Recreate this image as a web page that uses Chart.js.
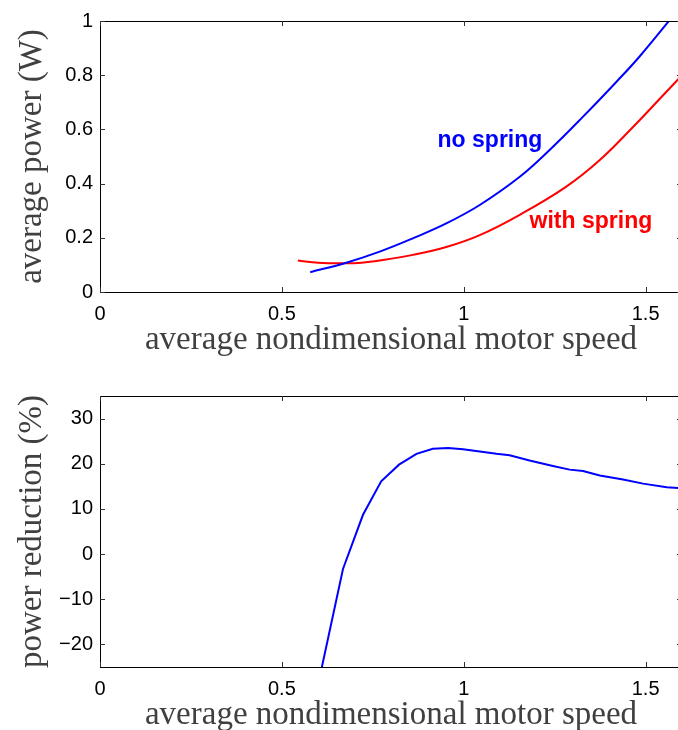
<!DOCTYPE html>
<html>
<head>
<meta charset="utf-8">
<script src="https://cdn.jsdelivr.net/npm/chart.js@4.4.1/dist/chart.umd.min.js"></script>
<style>
body { margin: 0; background: #fff; overflow: hidden; width: 678px; height: 730px; position: relative; }
.panel { position: absolute; left: 0; width: 690px; height: 365px; }
</style>
</head>
<body>
<div class="panel" style="top:0"><canvas id="powerChart" width="690" height="365"></canvas></div>
<div class="panel" style="top:375px"><canvas id="reductionChart" width="690" height="365"></canvas></div>
<script>
// top panel: average power vs speed
const speedNoSpring = [0.578, 0.677, 0.769, 0.860, 0.952, 1.044, 1.154, 1.236, 1.328, 1.42, 1.484, 1.575];
const powerNoSpring = [0.073, 0.108, 0.149, 0.198, 0.253, 0.321, 0.425, 0.524, 0.647, 0.776, 0.870, 1.018];
const speedWithSpring = [0.544, 0.60, 0.668, 0.72, 0.769, 0.860, 0.952, 1.044, 1.154, 1.282, 1.374, 1.466, 1.539, 1.60];
const powerWithSpring = [0.116, 0.108, 0.106, 0.108, 0.116, 0.137, 0.166, 0.210, 0.285, 0.389, 0.487, 0.610, 0.713, 0.800];

// bottom panel: power reduction (%)
const speedReduction = [0.58, 0.610, 0.668, 0.723, 0.773, 0.822, 0.870, 0.915, 0.957, 0.998, 1.044, 1.090, 1.126, 1.181, 1.245, 1.291, 1.328, 1.374, 1.438, 1.493, 1.558, 1.60];
const powerReduction = [-36, -25, -3.3, 8.7, 16.1, 19.8, 22.2, 23.3, 23.5, 23.2, 22.7, 22.2, 21.9, 20.7, 19.5, 18.7, 18.4, 17.4, 16.5, 15.6, 14.8, 14.6];

// tick labels
const speedTicks = [0, 0.5, 1, 1.5];
const powerTicks = [0, 0.2, 0.4, 0.6, 0.8, 1];
const reductionTicks = [-20, -10, 0, 10, 20, 30];

const tickFont = { family: 'Liberation Sans', size: 20 };
const titleFont = { family: 'Liberation Serif', size: 33 };
const titleColor = '#404040';

function pts(xs, ys) {
    return xs.map((x, i) => ({ x: x, y: ys[i] }));
}

function fmt(v) {
    return v < 0 ? '\u2212' + Math.abs(v) : String(v);
}

// matlab style box with inward ticks + text notes
const boxPlugin = {
    id: 'box',
    afterDatasetsDraw(chart, args, opts) {
        const ctx = chart.ctx;
        const a = chart.chartArea;
        const xs = chart.scales.x, ys = chart.scales.y;
        ctx.save();
        ctx.strokeStyle = '#000';
        ctx.lineWidth = 1;
        ctx.strokeRect(a.left + 0.5, a.top + 0.5, a.right - a.left, a.bottom - a.top);
        ctx.strokeStyle = '#333';
        ctx.beginPath();
        xs.ticks.forEach(t => {
            const px = Math.round(xs.getPixelForValue(t.value)) + 0.5;
            ctx.moveTo(px, a.bottom); ctx.lineTo(px, a.bottom - 5);
            ctx.moveTo(px, a.top); ctx.lineTo(px, a.top + 5);
        });
        ys.ticks.forEach(t => {
            const py = Math.round(ys.getPixelForValue(t.value)) + 0.5;
            ctx.moveTo(a.left, py); ctx.lineTo(a.left + 5, py);
            ctx.moveTo(a.right, py); ctx.lineTo(a.right - 5, py);
        });
        ctx.stroke();
        (opts.notes || []).forEach(n => {
            ctx.font = 'bold 23px "Liberation Sans"';
            ctx.fillStyle = n.color;
            ctx.textAlign = 'left';
            ctx.textBaseline = 'alphabetic';
            ctx.fillText(n.text, xs.getPixelForValue(n.x), ys.getPixelForValue(n.y));
        });
        ctx.restore();
    }
};

function makeChart(id, datasets, yMin, yMax, yTicks, yTitle, notes) {
    const ctx = document.getElementById(id).getContext('2d');
    return new Chart(ctx, {
        type: 'line',
        data: { datasets: datasets },
        plugins: [boxPlugin],
        options: {
            responsive: false,
            animation: false,
            layout: { padding: { top: 21, right: 8, bottom: 0, left: 0 } },
            plugins: {
                legend: { display: false },
                tooltip: { enabled: false },
                box: { notes: notes }
            },
            scales: {
                x: {
                    type: 'linear',
                    min: 0,
                    max: 1.6,
                    afterBuildTicks: s => { s.ticks = speedTicks.map(v => ({ value: v })); },
                    afterFit: s => { s.height = 73; },
                    grid: { display: false, drawTicks: false },
                    border: { display: false },
                    ticks: { font: tickFont, color: '#000', padding: 10, maxRotation: 0, callback: fmt },
                    title: {
                        display: true,
                        text: 'average nondimensional motor speed',
                        font: titleFont,
                        color: titleColor,
                        padding: { top: 0, bottom: 5 }
                    }
                },
                y: {
                    type: 'linear',
                    min: yMin,
                    max: yMax,
                    afterBuildTicks: s => { s.ticks = yTicks.map(v => ({ value: v })); },
                    afterFit: s => { s.width = 100; },
                    grid: { display: false, drawTicks: false },
                    border: { display: false },
                    ticks: { font: tickFont, color: '#000', padding: 7, callback: fmt },
                    title: {
                        display: true,
                        text: yTitle,
                        font: titleFont,
                        color: titleColor,
                        padding: { top: 13, bottom: 0 }
                    }
                }
            }
        }
    });
}

makeChart('powerChart', [
    {
        label: 'no spring',
        data: pts(speedNoSpring, powerNoSpring),
        borderColor: '#0000ff',
        borderWidth: 2,
        pointRadius: 0,
        tension: 0.4
    },
    {
        label: 'with spring',
        data: pts(speedWithSpring, powerWithSpring),
        borderColor: '#ff0000',
        borderWidth: 2,
        pointRadius: 0,
        tension: 0.4
    }
], 0, 1, powerTicks, 'average power (W)', [
    { text: 'no spring', x: 0.928, y: 0.535, color: '#0000ff' },
    { text: 'with spring', x: 1.181, y: 0.236, color: '#ff0000' }
]);

makeChart('reductionChart', [
    {
        label: 'power reduction',
        data: pts(speedReduction, powerReduction),
        borderColor: '#0000ff',
        borderWidth: 2,
        pointRadius: 0,
        tension: 0
    }
], -25, 35, reductionTicks, 'power reduction (%)', []);
</script>
</body>
</html>
